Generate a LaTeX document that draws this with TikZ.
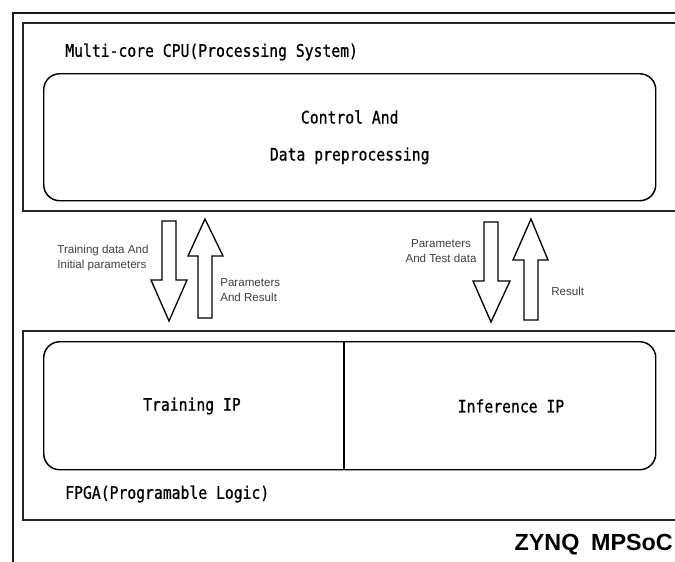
\documentclass[tikz,border=0pt]{standalone}
\usepackage{fontspec}
\setmainfont{Liberation Sans}
\newfontfamily\hei{DejaVu Sans Mono}[FakeStretch=0.85, FakeBold=0.8]

\begin{document}
\begin{tikzpicture}[x=0.75pt,y=-0.75pt,
  frame/.style={draw=black!90, line width=1.5pt},
  panel/.style={draw=black!85, line width=1.2pt},
  block/.style={draw=black, line width=1.1pt, rounded corners=12pt, inner sep=0pt},
  fat/.style={draw=black, line width=1pt, fill=white, line join=miter},
  boxtext/.style={font=\hei\fontsize{13}{27.75}\selectfont, inner sep=0pt, align=center},
  note/.style={font=\fontsize{8.7}{11.25}\selectfont, text=black!75, inner sep=0pt},
]
\clip (0,0) rectangle (675,561);
\fill[white] (0,0) rectangle (675,561);

% chip outline and the two subsystems (open towards the right edge)
\draw[frame] (13,13) rectangle (700,600);
\draw[panel] (23,23) rectangle (700,211);
\draw[panel] (23,331) rectangle (700,520);

% processing system
\node[boxtext, anchor=west] (pslabel) at (65,52) {Multi-core CPU(Processing System)};
\node[block, anchor=north west, minimum width=459pt, minimum height=95.25pt] (ctrl) at (43,73) {};
\node[boxtext] (ctrltext) at (ctrl.center) {Control And\\Data preprocessing};

% programmable logic
\node[block, anchor=north west, minimum width=459pt, minimum height=96pt] (ip) at (43,341) {};
\draw[line width=1.1pt] (344,341) -- (344,469);
\node[boxtext] (train) at (192,406) {Training IP};
\node[boxtext] (infer) at (511,406) {Inference IP};
\node[boxtext, anchor=west] (pllabel) at (65,494) {FPGA(Programable Logic)};

% data transfer arrows
\draw[fat] (162,221) -- (176,221) -- (176,280) -- (187,280) -- (169,321) -- (151,280) -- (162,280) -- cycle;
\draw[fat] (198,318) -- (212,318) -- (212,256) -- (223,256) -- (205,219) -- (188,256) -- (198,256) -- cycle;
\draw[fat] (484,222) -- (498,222) -- (498,281) -- (510,281) -- (491,322) -- (473,281) -- (484,281) -- cycle;
\draw[fat] (524,320) -- (538,320) -- (538,260) -- (548,260) -- (531,219) -- (513,260) -- (524,260) -- cycle;

\node[note, align=left] (l1) at (103,258) {Training data And\\Initial parameters};
\node[note, align=left, anchor=west] (l2) at (220,290) {Parameters\\And Result};
\node[note, align=center] (l3) at (441,251) {Parameters\\And Test data};
\node[note, anchor=west] (l4) at (551,291) {Result};

\node[anchor=base east, inner sep=0pt, font=\bfseries\fontsize{17.5}{20}\selectfont] (soc) at (673,550) {ZYNQ\hspace{0.5em}MPSoC};
\end{tikzpicture}
\end{document}
